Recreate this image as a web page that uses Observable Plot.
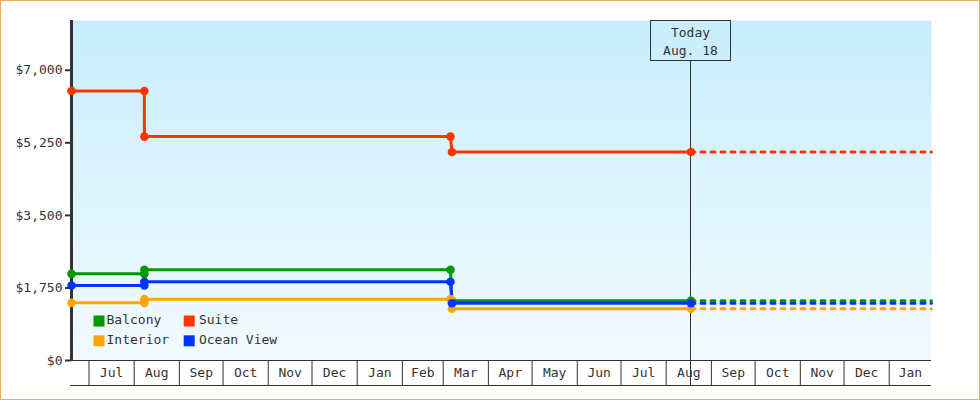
<!DOCTYPE html>
<html><head><meta charset="utf-8">
<script src="https://cdn.jsdelivr.net/npm/d3@7"></script>
<script src="https://cdn.jsdelivr.net/npm/@observablehq/plot@0.6"></script>
<style>
html,body{margin:0;padding:0;background:#fff;}
#wrap{position:relative;width:980px;height:400px;overflow:hidden;}
#border{position:absolute;left:0;top:0;width:980px;height:400px;box-sizing:border-box;border:1px solid #f0ad60;pointer-events:none;}
</style></head><body>
<div id="wrap"><div id="chart"></div><div id="border"></div></div>
<script>
// ---- data ----
const series = ["Balcony", "Suite", "Interior", "Ocean View"];
const colors = ["#009900", "#ff3300", "#ffa500", "#0033ff"];
const dates = ["2022-06-19", "2022-08-08", "2022-08-08", "2023-03-06", "2023-03-07", "2023-08-18"];
const balcony = [2090, 2090, 2190, 2190, 1440, 1440];
const suite = [6500, 6500, 5400, 5400, 5030, 5030];
const interior = [1390, 1390, 1480, 1480, 1250, 1250];
const oceanView = [1810, 1810, 1900, 1900, 1380, 1380];
const todayDate = "2023-08-18";
const todayLabel = ["Today", "Aug. 18"];
const domainStart = "2022-06-19";
const domainEnd = "2024-01-30";
const yTicks = [0, 1750, 3500, 5250, 7000];
const yMax = 8200;

// ---- build ----
const parse = d3.utcParse("%Y-%m-%d");
const valuesBySeries = [balcony, suite, interior, oceanView];
const data = series.flatMap((s, i) => dates.map((d, j) => ({series: s, date: parse(d), price: valuesBySeries[i][j]})));
const today = parse(todayDate);
const xDomain = [parse(domainStart), parse(domainEnd)];
const dotted = series.flatMap((s, i) => {
  const last = valuesBySeries[i][valuesBySeries[i].length - 1];
  return [{series: s, date: today, price: last}, {series: s, date: xDomain[1], price: last}];
});
const months = d3.utcMonth.range(d3.utcMonth.ceil(xDomain[0]), xDomain[1]);
const monthMids = months.map(m => {
  const e = d3.utcMonth.offset(m, 1);
  const b = e < xDomain[1] ? e : xDomain[1];
  return new Date((+m + +b) / 2);
});
const fmtMoney = d => "$" + d3.format(",")(d);

const legendMarks = series.flatMap((s, i) => {
  const col = i % 2, row = Math.floor(i / 2);
  return [
    Plot.dot([s], {frameAnchor: "bottom-left", dx: 27.5 + col * 90.2, dy: -39.5 + row * 19.8, symbol: "square", r: 6.2, fill: colors[i], stroke: "none"}),
    Plot.text([s], {frameAnchor: "bottom-left", dx: 35 + col * 92.4, dy: -36.5 + row * 19.8, text: d => d, textAnchor: "start", fill: "#333", fontSize: 13})
  ];
});

const todayBox = (index, scales, values, dimensions) => {
  const x = Math.round(scales.x(today)) + 0.5;
  const g = d3.create("svg:g");
  g.append("line").attr("x1", x).attr("x2", x).attr("y1", dimensions.marginTop + 40)
    .attr("y2", dimensions.height - dimensions.marginBottom + 25).attr("stroke", "#333").attr("stroke-width", 1);
  g.append("rect").attr("x", x - 40).attr("y", dimensions.marginTop + 0.5).attr("width", 80).attr("height", 40)
    .attr("fill", "none").attr("stroke", "#333").attr("stroke-width", 1);
  const t = g.append("text").attr("text-anchor", "middle").attr("fill", "#333").attr("font-size", 13);
  todayLabel.forEach((l, k) => t.append("tspan").attr("x", x).attr("y", dimensions.marginTop + 17 + k * 18).text(l));
  return g.node();
};

const chart = Plot.plot({
  width: 980,
  height: 400,
  marginLeft: 71,
  marginRight: 49,
  marginTop: 20,
  marginBottom: 40,
  style: {fontFamily: "DejaVu Sans Mono", fontSize: "13px", color: "#333", background: "transparent", overflow: "visible"},
  x: {type: "utc", domain: xDomain},
  y: {domain: [0, yMax]},
  color: {domain: series, range: colors},
  marks: [
    Plot.frame({fill: "url(#bgGrad)", stroke: "none"}),
    Plot.ruleY([0], {stroke: "#333", strokeWidth: 1}),
    Plot.ruleY([0], {stroke: "#333", strokeWidth: 1, dy: 25, insetLeft: -1}),
    Plot.axisX(months, {tickSize: 25, tickFormat: () => "", label: null, stroke: "#333"}),
    Plot.axisX(monthMids, {tickSize: 0, tickPadding: 7, tickFormat: d3.utcFormat("%b"), label: null, fill: "#333"}),
    Plot.axisY({ticks: yTicks, tickFormat: fmtMoney, tickSize: 6, tickPadding: 3, label: null, stroke: "#333", strokeWidth: 2, fill: "#333"}),
    Plot.ruleX([xDomain[0]], {stroke: "#333", strokeWidth: 3}),
    todayBox,
    Plot.line(dotted, {x: "date", y: "price", z: "series", stroke: "series", strokeWidth: 3, strokeDasharray: "4,6"}),
    Plot.line(data, {x: "date", y: "price", z: "series", stroke: "series", strokeWidth: 3}),
    Plot.dot(data, {x: "date", y: "price", fill: "series", r: 4.3}),
    ...legendMarks
  ]
});

const svg = d3.select(chart);
const grad = svg.insert("defs", ":first-child").append("linearGradient")
  .attr("id", "bgGrad").attr("x1", 0).attr("y1", 0).attr("x2", 0).attr("y2", 1);
grad.append("stop").attr("offset", "0%").attr("stop-color", "#c8eefc");
grad.append("stop").attr("offset", "100%").attr("stop-color", "#f2faff");

document.getElementById("chart").appendChild(chart);
</script>
</body></html>
